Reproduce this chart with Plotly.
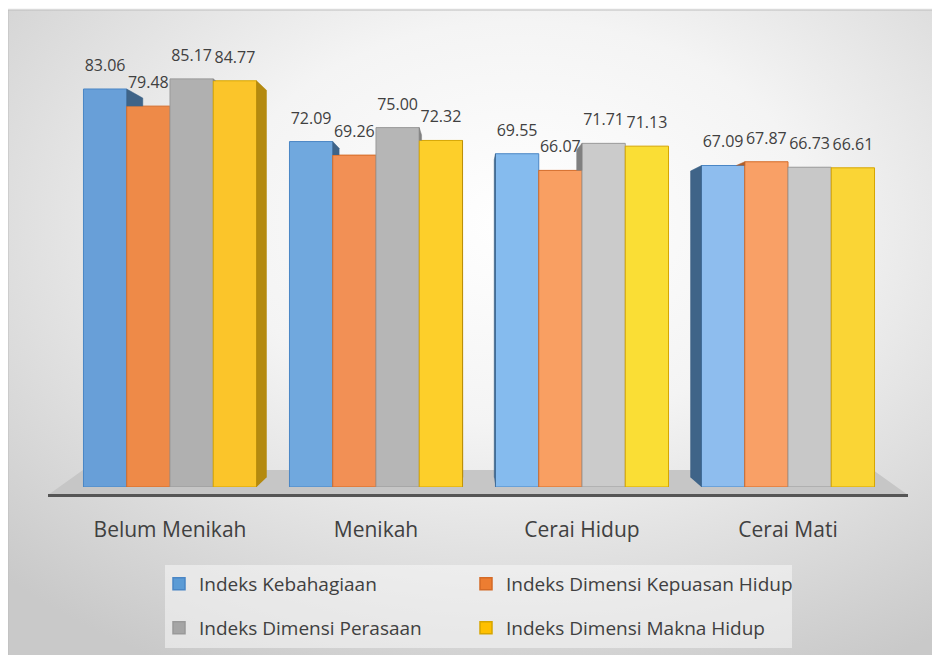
import base64
import plotly.graph_objects as go

# ---------------- data ----------------
categories = ["Belum Menikah", "Menikah", "Cerai Hidup", "Cerai Mati"]
series_names = [
    "Indeks Kebahagiaan",
    "Indeks Dimensi Kepuasan Hidup",
    "Indeks Dimensi Perasaan",
    "Indeks Dimensi Makna Hidup",
]
kebahagiaan = [83.06, 72.09, 69.55, 67.09]
kepuasan_hidup = [79.48, 69.26, 66.07, 67.87]
perasaan = [85.17, 75.00, 71.71, 66.73]
makna_hidup = [84.77, 72.32, 71.13, 66.61]
series_values = [kebahagiaan, kepuasan_hidup, perasaan, makna_hidup]

# ---------------- styles ----------------
front_colors = [
    ["#689fd8", "#70a8de", "#85bbee", "#8ebdee"],
    ["#ee8a48", "#f29055", "#f99f62", "#f9a066"],
    ["#b0b0b0", "#b6b6b6", "#cbcbcb", "#c8c8c8"],
    ["#fbc52a", "#fdcf2a", "#fade35", "#fad535"],
]
side_colors = ["#3f6488", "#b05f2a", "#808080", "#b48a10"]
edge_colors = ["#4a86c5", "#d46a26", "#999999", "#d6a500"]
legend_colors = ["#5b9bd5", "#ed7d31", "#a5a5a5", "#ffc000"]

# page body has an 8px margin: the figure starts at (8, 8) of the window
OFF = 8
W, H = 940 - OFF, 655 - OFF
PL, PR, PT, PB = 67, 891, 15, 487          # plot area in window pixels
ML, MR, MT, MB = PL - OFF, 940 - PR, PT - OFF, 655 - PB
PW = PR - PL
PH = PB - PT
YMAX = 98.5
BAR_W = 0.21
VP = (1.45, 42.6)   # perspective vanishing point (data units)
K = 0.047
TXT = "#404040"
FONT = "Open Sans"


def px(x):
    return (x - PL) / PW


def py(y):
    return (PB - y) / PH


fig = go.Figure()

# front faces (real bars)
for j, vals in enumerate(series_values):
    fig.add_trace(go.Bar(
        x=list(range(len(categories))), y=vals, name=series_names[j],
        width=BAR_W, offset=-2 * BAR_W + j * BAR_W,
        marker=dict(color=front_colors[j], line=dict(color=edge_colors[j], width=1)),
        showlegend=False, hoverinfo="skip",
    ))

# side faces (3-D look), derived from the values
for i in range(len(categories)):
    for j, vals in enumerate(series_values):
        v = vals[i]
        xl = i - 2 * BAR_W + j * BAR_W
        xr = xl + BAR_W
        if xr <= VP[0]:
            xf, nb = xr, j + 1
        elif xl >= VP[0]:
            xf, nb = xl, j - 1
        else:
            continue
        xb = xf + (VP[0] - xf) * K
        ybt = v + (VP[1] - v) * K
        ybb = VP[1] * K
        if 0 <= nb < len(series_values):
            c = series_values[nb][i]
            if c >= v:
                continue
            if c <= ybt:
                pts = [(xf, c), (xf, v), (xb, ybt), (xb, c)]
            else:
                t = (v - c) / (v - ybt)
                pts = [(xf, c), (xf, v), (xf + (xb - xf) * t, c)]
        else:
            pts = [(xf, 0), (xf, v), (xb, ybt), (xb, ybb)]
        fig.add_trace(go.Scatter(
            x=[p[0] for p in pts], y=[p[1] for p in pts], mode="lines",
            fill="toself", fillcolor=side_colors[j], line=dict(width=0.5, color=side_colors[j]),
            showlegend=False, hoverinfo="skip",
        ))

# data labels
for j, vals in enumerate(series_values):
    fig.add_trace(go.Scatter(
        x=[i - 2 * BAR_W + j * BAR_W + BAR_W / 2 for i in range(len(categories))],
        y=[v + 4.6 for v in vals],
        text=[f"{v:.2f}" for v in vals], mode="text",
        textposition="middle center",
        textfont=dict(family=FONT, size=16, color=TXT),
        showlegend=False, hoverinfo="skip",
    ))

# legend entries: one legend per entry (2 x 2 grid)
legend_ids = ["legend", "legend2", "legend3", "legend4"]
for j in range(4):
    fig.add_trace(go.Bar(
        x=[None], y=[None], name=series_names[j],
        marker=dict(color=legend_colors[j], line=dict(color=edge_colors[j], width=1.5)),
        legend=legend_ids[j], showlegend=True,
    ))

legend_pos = [(159, 584), (466, 584), (159, 628), (466, 628)]
legend_layout = {}
for lid, (lx, ly) in zip(legend_ids, legend_pos):
    legend_layout[lid] = dict(
        orientation="h", x=px(lx), y=py(ly), xanchor="left", yanchor="middle",
        bgcolor="rgba(0,0,0,0)", font=dict(family=FONT, size=19, color=TXT),
    )

# background gradient
svg = (
    '<svg xmlns="http://www.w3.org/2000/svg" width="940" height="655" '
    'viewBox="0 0 940 655" preserveAspectRatio="none"><defs>'
    '<radialGradient id="g" cx="0.55" cy="0.33" r="0.78">'
    '<stop offset="0" stop-color="#ffffff"/><stop offset="0.4" stop-color="#f4f4f4"/>'
    '<stop offset="1" stop-color="#c9c9c9"/></radialGradient></defs>'
    '<rect x="0" y="0" width="940" height="655" fill="url(#g)"/></svg>'
)
src = "data:image/svg+xml;base64," + base64.b64encode(svg.encode()).decode()

shapes = [
    # chart frame
    dict(type="rect", xref="paper", yref="paper", x0=px(8), x1=px(960), y0=py(10), y1=py(680),
         line=dict(color="#bdbdbd", width=1), fillcolor="rgba(0,0,0,0)", layer="below"),
    # floor
    dict(type="path", xref="paper", yref="paper",
         path=f"M{px(48)},{py(495)} L{px(908)},{py(495)} L{px(873)},{py(470)} L{px(83)},{py(470)} Z",
         fillcolor="#c6c6c6", line=dict(width=0), layer="below"),
    dict(type="line", xref="paper", yref="paper", x0=px(48), x1=px(908), y0=py(495.5), y1=py(495.5),
         line=dict(color="#555555", width=3), layer="below"),
    # legend box
    dict(type="rect", xref="paper", yref="paper", x0=px(165), x1=px(792), y0=py(565), y1=py(648),
         fillcolor="rgba(248,248,248,0.55)", line=dict(width=0), layer="below"),
]

fig.update_layout(
    width=W, height=H, autosize=False,
    margin=dict(l=ML, r=MR, t=MT, b=MB, pad=0),
    paper_bgcolor="#f7f7f7", plot_bgcolor="rgba(0,0,0,0)",
    barmode="overlay",
    font=dict(family=FONT, color=TXT),
    xaxis=dict(
        range=[-0.5, 3.5], tickvals=list(range(len(categories))), ticktext=categories,
        showgrid=False, zeroline=False, showline=False, ticks="",
        tickfont=dict(family=FONT, size=21, color=TXT), ticklabelstandoff=28,
        fixedrange=True,
    ),
    yaxis=dict(range=[0, YMAX], visible=False, fixedrange=True),
    images=[dict(source=src, xref="paper", yref="paper", x=px(8), y=py(10),
                 sizex=(940 - 8) / PW, sizey=(655 - 10) / PH, xanchor="left", yanchor="top",
                 sizing="stretch", layer="below")],
    shapes=shapes,
    showlegend=True,
    **legend_layout,
)

fig.write_html("out.html")
